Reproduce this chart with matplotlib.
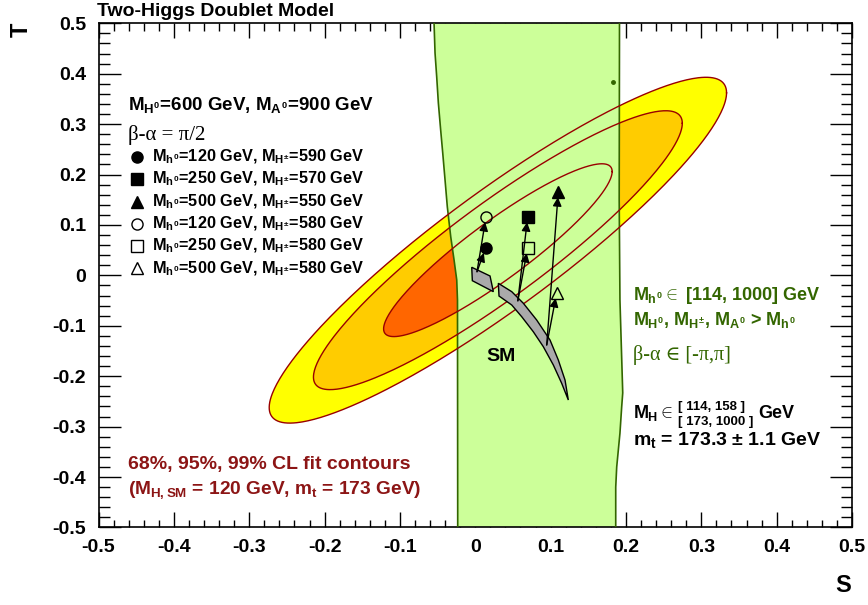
import numpy as np
import matplotlib
matplotlib.use("Agg")
from matplotlib import pyplot as plt
from matplotlib.ticker import MultipleLocator

plt.rcParams['font.family'] = ['Liberation Sans', 'DejaVu Sans']
plt.rcParams['font.weight'] = 'bold'
plt.rcParams['mathtext.fontset'] = 'custom'
plt.rcParams['mathtext.rm'] = 'Liberation Sans:bold'
plt.rcParams['mathtext.it'] = 'Liberation Sans:bold'
plt.rcParams['mathtext.bf'] = 'Liberation Sans:bold'
plt.rcParams['mathtext.sf'] = 'Liberation Sans:bold'

# fit contours (S, T centre, errors, correlation) and CL levels
fit_center = [0.03, 0.05]
fit_sigma = [0.10, 0.113]
fit_rho = 0.91
cl_chi2 = [9.21, 5.99, 2.30]          # 99%, 95%, 68%
cl_colors = ["#ffff00", "#ffcc00", "#ff6600"]

# allowed 2HDM region (green band): left and right edges
band_left_S = [-0.0547, -0.0534, -0.0512, -0.0490, -0.0459, -0.0432, -0.0401,
               -0.0371, -0.0326, -0.0282, -0.0246, -0.0236, -0.0233]
band_left_T = [0.5, 0.441, 0.394, 0.342, 0.288, 0.243, 0.189,
               0.136, 0.077, 0.031, -0.009, -0.049, -0.5]
band_right_S = [0.1914, 0.191, 0.192, 0.1957, 0.1943, 0.192, 0.1877, 0.1864, 0.1864]
band_right_T = [0.5, 0.150, -0.049, -0.233, -0.261, -0.313, -0.380, -0.420, -0.5]
dot_S, dot_T = 0.183, 0.384

# SM prediction (grey bands)
sm1_S = [-0.0047, 0.0196, 0.0240, -0.0039]
sm1_T = [0.0161, -0.0012, -0.0323, -0.0105]
sm2_up_S = [0.0306, 0.0484, 0.0638, 0.0815, 0.0992, 0.1102, 0.1191, 0.1235]
sm2_up_T = [-0.0157, -0.0323, -0.0553, -0.0885, -0.1282, -0.1678, -0.2075, -0.2472]
sm2_lo_S = [0.0315, 0.0484, 0.0616, 0.0770, 0.0903, 0.1036, 0.1147]
sm2_lo_T = [-0.0409, -0.0587, -0.0819, -0.1117, -0.1414, -0.1777, -0.2141]

# 2HDM points and their SM starting points
pt_S = [0.0139, 0.0696, 0.1102, 0.0143, 0.0696, 0.1081]
pt_T = [0.0549, 0.1164, 0.166, 0.1164, 0.0549, -0.0343]
start_S = [0.0023, 0.0565, 0.0948, 0.0023, 0.0565, 0.0948]
start_T = [0.0073, -0.0504, -0.138, 0.0073, -0.0504, -0.138]
pt_marker = ['o', 's', '^', 'o', 's', '^']
pt_filled = [True, True, True, False, False, False]
pt_labels = [r"$M_{h^0}$=120 GeV, $M_{H^{\pm}}$=590 GeV",
             r"$M_{h^0}$=250 GeV, $M_{H^{\pm}}$=570 GeV",
             r"$M_{h^0}$=500 GeV, $M_{H^{\pm}}$=550 GeV",
             r"$M_{h^0}$=120 GeV, $M_{H^{\pm}}$=580 GeV",
             r"$M_{h^0}$=250 GeV, $M_{H^{\pm}}$=580 GeV",
             r"$M_{h^0}$=500 GeV, $M_{H^{\pm}}$=580 GeV"]

ticks = [-0.5, -0.4, -0.3, -0.2, -0.1, 0, 0.1, 0.2, 0.3, 0.4, 0.5]
tick_labels = ["-0.5", "-0.4", "-0.3", "-0.2", "-0.1", "0",
               "0.1", "0.2", "0.3", "0.4", "0.5"]

green_fill = "#ccff99"
green_dark = "#336600"
red_line = "#990000"
red_text = "#8c1515"
serif = ['Liberation Serif', 'DejaVu Serif']

fig = plt.figure(figsize=(8.68, 6.05), dpi=100)
ax = fig.add_axes([0.1135, 0.1281, 0.8681, 0.8334])

# ellipses
cov = np.array([[fit_sigma[0]**2, fit_rho*fit_sigma[0]*fit_sigma[1]],
                [fit_rho*fit_sigma[0]*fit_sigma[1], fit_sigma[1]**2]])
L = np.linalg.cholesky(cov)
th = np.linspace(0, 2*np.pi, 400)
circ = np.vstack([np.cos(th), np.sin(th)])
ell = []
for chi2, col in zip(cl_chi2, cl_colors):
    e = np.sqrt(chi2) * (L @ circ)
    es, et = e[0] + fit_center[0], e[1] + fit_center[1]
    ell.append((es, et))
    ax.fill(es, et, color=col, lw=0, zorder=1)

# green band
bs = band_left_S + band_right_S[::-1]
bt = band_left_T + band_right_T[::-1]
ax.fill(bs, bt, color=green_fill, lw=0, zorder=2)
ax.plot(band_left_S, band_left_T, color=green_dark, lw=1.2, zorder=3)
ax.plot(band_right_S, band_right_T, color=green_dark, lw=1.2, zorder=3)
ax.plot(dot_S, dot_T, 'o', ms=2.5, color=green_dark, zorder=3)

for es, et in ell:
    ax.plot(es, et, color=red_line, lw=1.0, zorder=4)

# SM bands
ax.fill(sm1_S, sm1_T, facecolor="#aaaaaa", edgecolor="k", lw=1, zorder=5)
sm2_S = sm2_up_S + sm2_lo_S[::-1]
sm2_T = sm2_up_T + sm2_lo_T[::-1]
ax.fill(sm2_S, sm2_T, facecolor="#aaaaaa", edgecolor="k", lw=1, zorder=5)

# arrows and points
for i in range(len(pt_S)):
    ax.annotate("", xy=(pt_S[i], pt_T[i]), xytext=(start_S[i], start_T[i]),
                arrowprops=dict(arrowstyle='-|>', color='k', lw=1,
                                shrinkA=0, shrinkB=4, mutation_scale=13),
                zorder=6)
    fc = 'k' if pt_filled[i] else 'none'
    ax.plot(pt_S[i], pt_T[i], pt_marker[i], ms=8, mfc=fc, mec='k', mew=1, zorder=7)

ax.text(0.034, -0.161, "SM", fontsize=14, ha='center', va='center', zorder=8)

# legend block
ax.text(0.0392, 0.838, r"$M_{H^0}$=600 GeV, $M_{A^0}$=900 GeV", transform=ax.transAxes,
        fontsize=13.5, va='center')
ax.text(0.0392, 0.7785, "β-α = π/2", transform=ax.transAxes, fontsize=15,
        family=serif, weight='normal', va='center')
row_y = [0.7354, 0.6906, 0.6461, 0.6019, 0.5583, 0.514]
for i in range(len(pt_labels)):
    fc = 'k' if pt_filled[i] else 'none'
    ax.plot(0.0507, row_y[i], pt_marker[i], ms=8, mfc=fc, mec='k', mew=1,
            transform=ax.transAxes, clip_on=False)
    ax.text(0.0706, row_y[i], pt_labels[i], transform=ax.transAxes, fontsize=11.7, va='center')

# right block
ax.text(0.7094, 0.4611, r"$M_{h^0}\in$ [114, 1000] GeV", transform=ax.transAxes,
        fontsize=13, color=green_dark, va='center')
ax.text(0.7094, 0.4115, r"$M_{H^0}$, $M_{H^{\pm}}$, $M_{A^0}$ > $M_{h^0}$",
        transform=ax.transAxes, fontsize=13, color=green_dark, va='center')
ax.text(0.7094, 0.3421, "β-α ∈ [-π,π]", transform=ax.transAxes, fontsize=14.5,
        family=serif, weight='normal', color=green_dark, va='center')
ax.text(0.7094, 0.227, r"$M_H\in$", transform=ax.transAxes, fontsize=13, va='center')
ax.text(0.769, 0.2396, "[ 114, 158 ]", transform=ax.transAxes, fontsize=9.5, va='center')
ax.text(0.769, 0.2098, "[ 173, 1000 ]", transform=ax.transAxes, fontsize=9.5, va='center')
ax.text(0.875, 0.227, "GeV", transform=ax.transAxes, fontsize=13, va='center')
ax.text(0.7094, 0.1735, r"$m_t$ = 173.3 $\pm$ 1.1 GeV", transform=ax.transAxes,
        fontsize=14, va='center')

# bottom-left block
ax.text(0.0392, 0.124, "68%, 95%, 99% CL fit contours", transform=ax.transAxes,
        fontsize=14, color=red_text, va='center')
ax.text(0.0392, 0.0744, r"($M_{H,SM}$ = 120 GeV, $m_t$ = 173 GeV)", transform=ax.transAxes,
        fontsize=13.8, color=red_text, va='center')

ax.set_xlim(-0.5, 0.5)
ax.set_ylim(-0.5, 0.5)
ax.set_xticks(ticks)
ax.set_xticklabels(tick_labels)
ax.set_yticks(ticks)
ax.set_yticklabels(tick_labels)
ax.xaxis.set_minor_locator(MultipleLocator(0.02))
ax.yaxis.set_minor_locator(MultipleLocator(0.02))
ax.tick_params(which='both', direction='in', top=True, right=True, width=1, labelsize=14)
ax.tick_params(axis='x', which='major', length=10.8, pad=8)
ax.tick_params(axis='x', which='minor', length=5.4)
ax.tick_params(axis='y', which='major', length=16, pad=9)
ax.tick_params(axis='y', which='minor', length=8)
for sp in ax.spines.values():
    sp.set_linewidth(1.2)

fig.text(0.1118, 0.9736, "Two-Higgs Doublet Model", fontsize=14, va='baseline')
fig.text(0.024, 1 - 30/605, "T", fontsize=17, rotation=90, ha='center', va='center')
fig.text(843/868, 1 - 585/605, "S", fontsize=17, ha='center', va='center')

fig.savefig("out.png", dpi=100)
